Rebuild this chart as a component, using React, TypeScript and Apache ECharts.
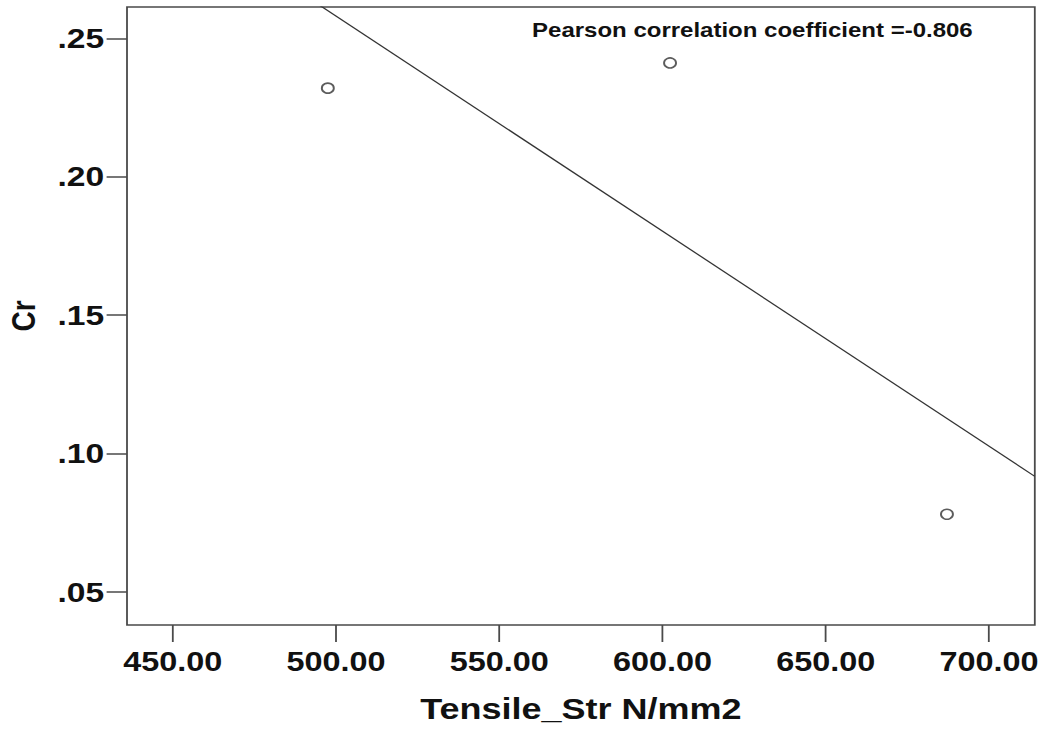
import React, { useEffect, useRef } from "react";
import * as echarts from "echarts";

// Observations: tensile strength (N/mm2) vs Cr content
const tensileStr = [497.5, 602.3, 687.1];
const crValues = [0.232, 0.2411, 0.0781];
const pearsonR = -0.806;

const xTicks = [450, 500, 550, 600, 650, 700];
const yTicks = [0.05, 0.1, 0.15, 0.2, 0.25];
const xRange = [436, 714];
const yRange = [0.0381, 0.2613];

const STRETCH = 1.2;
const PAGE_W = 1043;
const PAGE_H = 729;
const FONT = "'Liberation Sans', Arial, sans-serif";

// Least-squares fit line through the observations
function fitLine(xs: number[], ys: number[]) {
  const n = xs.length;
  const mx = xs.reduce((a, b) => a + b, 0) / n;
  const my = ys.reduce((a, b) => a + b, 0) / n;
  let sxy = 0;
  let sxx = 0;
  for (let i = 0; i < n; i++) {
    sxy += (xs[i] - mx) * (ys[i] - my);
    sxx += (xs[i] - mx) * (xs[i] - mx);
  }
  const slope = sxy / sxx;
  return (x: number) => my + slope * (x - mx);
}

export default function App() {
  const ref = useRef<HTMLDivElement>(null);

  useEffect(() => {
    if (!ref.current) return;
    const chart = echarts.init(ref.current, null, { renderer: "svg" });
    const f = fitLine(tensileStr, crValues);
    const fitData = [
      [xRange[0], f(xRange[0])],
      [xRange[1], f(xRange[1])],
    ];

    chart.setOption({
      animation: false,
      backgroundColor: "#ffffff",
      grid: {
        left: 127 / STRETCH,
        right: 8 / STRETCH,
        top: 7,
        bottom: 104,
        containLabel: false,
        outerBoundsMode: "none",
        show: true,
        borderColor: "#4a4a4a",
        borderWidth: 1.5,
        backgroundColor: "transparent",
      },
      xAxis: {
        type: "value",
        min: xRange[0],
        max: xRange[1],
        name: "Tensile_Str N/mm2",
        nameLocation: "middle",
        nameGap: 69,
        nameTextStyle: {
          fontFamily: FONT,
          fontWeight: "bold",
          fontSize: 30,
          color: "#111",
        },
        splitLine: { show: false },
        axisLine: { show: false },
        axisTick: {
          show: true,
          length: 17,
          customValues: xTicks,
          lineStyle: { color: "#4a4a4a", width: 1.5 },
        },
        axisLabel: {
          customValues: xTicks,
          formatter: (v: number) => v.toFixed(2),
          margin: 23,
          fontFamily: FONT,
          fontWeight: "bold",
          fontSize: 27,
          color: "#111",
        },
      },
      yAxis: {
        type: "value",
        min: yRange[0],
        max: yRange[1],
        name: "Cr",
        nameLocation: "middle",
        nameGap: 72,
        nameTextStyle: {
          fontFamily: FONT,
          fontWeight: "bold",
          fontSize: 28,
          color: "#111",
        },
        splitLine: { show: false },
        axisLine: { show: false },
        axisTick: {
          show: true,
          length: 17,
          customValues: yTicks,
          lineStyle: { color: "#4a4a4a", width: 1.5 },
        },
        axisLabel: {
          customValues: yTicks,
          formatter: (v: number) => v.toFixed(2).replace(/^0/, ""),
          margin: 19,
          fontFamily: FONT,
          fontWeight: "bold",
          fontSize: 28,
          color: "#111",
        },
      },
      graphic: [
        {
          type: "text",
          x: 627,
          y: 20,
          style: {
            text: `Pearson correlation coefficient =${pearsonR.toFixed(3)}`,
            textAlign: "center",
            textVerticalAlign: "top",
            fontFamily: FONT,
            fontWeight: "bold",
            fontSize: 20,
            fill: "#111",
          },
        },
      ],
      series: [
        {
          type: "line",
          data: fitData,
          symbol: "none",
          clip: true,
          lineStyle: { color: "#333", width: 1.2 },
          z: 2,
        },
        {
          type: "scatter",
          data: tensileStr.map((x, i) => [x, crValues[i]]),
          symbol: "circle",
          symbolSize: 10,
          itemStyle: { color: "#ffffff", borderColor: "#333", borderWidth: 1.6 },
          z: 3,
        },
      ],
    });

    return () => chart.dispose();
  }, []);

  return (
    <div
      ref={ref}
      style={{
        position: "absolute",
        left: 0,
        top: 0,
        width: PAGE_W / STRETCH,
        height: PAGE_H,
        transform: `scaleX(${STRETCH})`,
        transformOrigin: "0 0",
      }}
    />
  );
}
